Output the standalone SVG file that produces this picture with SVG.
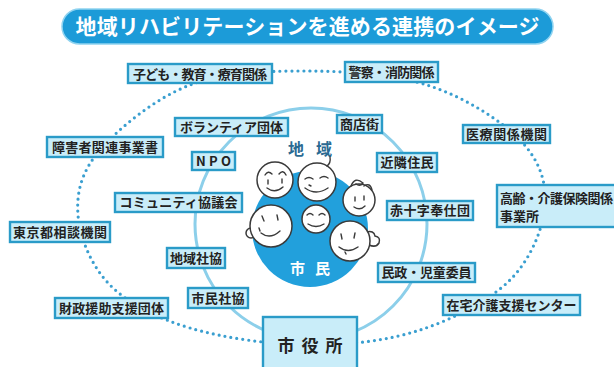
<svg xmlns="http://www.w3.org/2000/svg" width="614" height="367" viewBox="0 0 614 367">
  <style>
    text { font-family: "Noto Sans CJK JP", "Noto Sans CJK SC", "Liberation Sans", sans-serif; font-weight: bold; }
    .box { fill: #c9edf9; stroke: #2a9bc8; stroke-width: 2.4; }
    .lbl { font-size: 13px; fill: #222; text-anchor: middle; }
    .lbl-l { font-size: 13px; fill: #222; }
    .face { fill: #fff; stroke: #3a3a3a; stroke-width: 1.5; }
    .feat { fill: none; stroke: #3a3a3a; stroke-width: 1.4; stroke-linecap: round; }
  </style>
  <rect width="614" height="367" fill="#fff"/>

  <!-- title -->
  <g id="title">
    <rect x="62" y="9" width="491" height="35" rx="17.5" fill="#1c9bd8" stroke="#8fd3f0" stroke-width="1.5"/>
    <text x="307.5" y="34" font-size="21" fill="#fff" text-anchor="middle" textLength="464">地域リハビリテーションを進める連携のイメージ</text>
  </g>

  <!-- connectors: outer dotted network and inner community ring -->
  <g id="connectors">
    <path id="outer-ring" fill="none" stroke="#3a9fd0" stroke-width="3.2" stroke-linecap="round" stroke-dasharray="0 6"
      d="M310,71 C350,71.2 395,74.5 430,86 C465,97.5 500.8,120.2 520,140 C539.2,159.8 546.7,181.7 545,205 C543.3,228.3 530.8,259.2 510,280 C489.2,300.8 453.3,319.2 420,330 C386.7,340.8 348.3,345.3 310,345 C271.7,344.7 223.3,338 190,328 C156.7,318 128.7,303.8 110,285 C91.3,266.2 79.7,237.5 78,215 C76.3,192.5 81.3,171.7 100,150 C118.7,128.3 155,98.2 190,85 C225,71.8 270,70.8 310,71 Z"/>
    <circle id="inner-ring" cx="311" cy="224" r="116" fill="none" stroke="#8ccfea" stroke-width="3"/>
  </g>

  <!-- central citizens group -->
  <g id="citizens">
    <circle cx="310" cy="229" r="58" fill="#22a0dc"/>
    <text x="310" y="155" font-size="16" fill="#2a6a92" text-anchor="middle" textLength="44">地 域</text>
    <text x="310" y="274" font-size="15" fill="#fff" text-anchor="middle" textLength="40">市 民</text>
    <!-- ears -->
    <circle class="face" cx="251" cy="233" r="5"/>
    <path class="face" d="M366,232 q8,-2 9,4 q6,1 4,7 q-3,5 -10,2 z"/>
    <!-- faces -->
    <circle class="face" cx="275" cy="180" r="18"/>
    <path class="feat" d="M265,175 q3,-5 7,-1 M279,174 q4,-5 7,1 M268,180 l0,4 M282,179 l0,4 M267,188 q8,6 16,-1"/>
    <circle class="face" cx="317" cy="182" r="19"/>
    <path class="feat" d="M327,166 q4,-3 3,-9 M305,179 q4,-3 8,0 M320,178 q4,-3 8,0 M305,188 q11,8 23,0 M309,185 l2,1"/>
    <circle class="face" cx="359" cy="200" r="16"/>
    <path class="feat" d="M351,186 q4,-10 12,-3 q-3,4 -7,1 M364,186 q6,-4 8,4 M355,197 l0,4 M364,196 l0,4 M354,207 q6,4 11,-1"/>
    <circle class="face" cx="271" cy="226" r="21"/>
    <path class="feat" d="M262,216 l2,5 M277,215 l1,5 M261,233 q9,7 19,-2 M259,228 l1,3"/>
    <circle class="face" cx="316" cy="219" r="14"/>
    <path class="feat" d="M307,215 q3,-3 6,0 M319,215 q3,-3 6,0 M308,224 q8,5 16,0"/>
    <circle class="face" cx="350" cy="241" r="20"/>
    <path class="feat" d="M341,234 l1,5 M355,233 l-1,5 M339,247 q9,7 19,0 M345,252 l1,2"/>
  </g>

  <!-- organisations -->
  <g id="kodomo"><rect class="box" x="128" y="64" width="144" height="19"/><text class="lbl" x="200" y="78.5" textLength="134">子ども・教育・療育関係</text></g>
  <g id="keisatsu"><rect class="box" x="345" y="62" width="93" height="20"/><text class="lbl" x="391.5" y="76.5" textLength="86">警察・消防関係</text></g>
  <g id="shougai"><rect class="box" x="47" y="137" width="116" height="20"/><text class="lbl" x="105" y="151.5" textLength="106">障害者関連事業書</text></g>
  <g id="volunteer"><rect class="box" x="175" y="118" width="113" height="18"/><text class="lbl" x="231.5" y="131.5" textLength="103">ボランティア団体</text></g>
  <g id="shoutengai"><rect class="box" x="337" y="115" width="45" height="18"/><text class="lbl" x="359.5" y="128.5" textLength="39">商店街</text></g>
  <g id="npo"><rect class="box" x="192" y="152" width="43" height="18"/><text class="lbl" x="213.5" y="165.5" textLength="35">NPO</text></g>
  <g id="kinrin"><rect class="box" x="377" y="153" width="60" height="19"/><text class="lbl" x="407" y="167" textLength="53">近隣住民</text></g>
  <g id="iryou"><rect class="box" x="463" y="125" width="87" height="18"/><text class="lbl" x="506.5" y="138.5" textLength="81">医療関係機関</text></g>
  <g id="community"><rect class="box" x="115" y="193" width="127" height="19"/><text class="lbl" x="178.5" y="207" textLength="118">コミュニティ協議会</text></g>
  <g id="koureisha"><rect class="box" x="497" y="185" width="125" height="42"/><text class="lbl-l" x="500" y="203" textLength="113">高齢・介護保険関係</text><text class="lbl-l" x="500" y="221">事業所</text></g>
  <g id="sekijuji"><rect class="box" x="387" y="201" width="86" height="19"/><text class="lbl" x="430" y="215" textLength="80">赤十字奉仕団</text></g>
  <g id="tokyo"><rect class="box" x="10" y="222" width="100" height="20"/><text class="lbl" x="60" y="236.5" textLength="94">東京都相談機関</text></g>
  <g id="chiiki-shakyo"><rect class="box" x="167" y="248" width="58" height="20"/><text class="lbl" x="196" y="262.5" textLength="52">地域社協</text></g>
  <g id="minsei"><rect class="box" x="378" y="263" width="97" height="19"/><text class="lbl" x="426.5" y="277" textLength="90">民政・児童委員</text></g>
  <g id="shimin-shakyo"><rect class="box" x="188" y="288" width="60" height="20"/><text class="lbl" x="218" y="302.5" textLength="53">市民社協</text></g>
  <g id="zaisei"><rect class="box" x="55" y="298" width="113" height="20"/><text class="lbl" x="111.5" y="312.5" textLength="105">財政援助支援団体</text></g>
  <g id="zaitaku"><rect class="box" x="443" y="295" width="137" height="20"/><text class="lbl" x="511.5" y="309.5" textLength="130">在宅介護支援センター</text></g>
  <g id="shiyakusho"><rect class="box" x="263" y="317" width="94" height="56" fill="#bfe8f8"/><text x="310" y="352" font-size="17" fill="#222" text-anchor="middle" textLength="65">市 役 所</text></g>
</svg>
